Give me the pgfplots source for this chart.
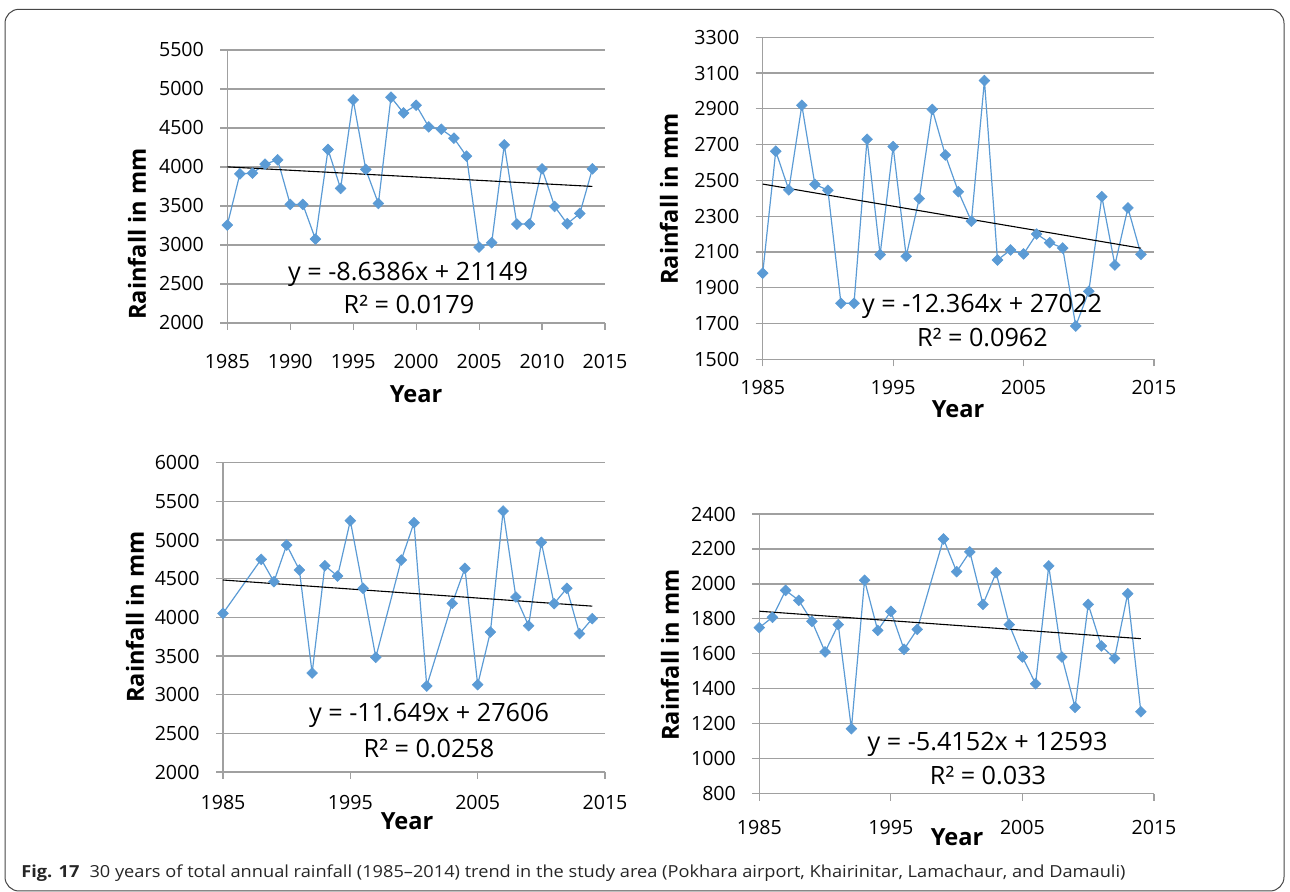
\documentclass[border=0pt]{standalone}
\usepackage{pgfplots}
\pgfplotsset{compat=1.18}
\usepackage{fontspec}
\setmainfont{Open Sans}
\usepackage{graphicx}
\definecolor{sblue}{RGB}{91,155,213}
\definecolor{ggray}{RGB}{160,160,160}
\definecolor{framec}{RGB}{70,70,70}
\makeatletter
\tikzdeclarecoordinatesystem{px}{\px@parse#1\@nil}
\def\px@parse#1,#2\@nil{\pgfmathsetmacro\pxx{(#1)*0.5}\pgfmathsetmacro\pxy{(892-(#2))*0.5}\pgfpoint{\pxx pt}{\pxy pt}}
\makeatother
\pgfplotsset{
  rain/.style={
    scale only axis, anchor=south west,
    axis x line=bottom, axis y line=left,
    axis line style={ggray, line width=0.6pt, -},
    x axis line style={-}, y axis line style={-},
    ymajorgrids, grid style={ggray, line width=0.6pt},
    tick align=outside, major tick length=3.5pt,
    tick style={ggray, line width=0.6pt},
    minor tick num=0,
    xmin=1985, xmax=2015,
    scaled ticks=false,
    /pgf/number format/1000 sep={},
    /pgf/number format/assume math mode=true,
    tick label style={font=\fontsize{9.8}{11}\selectfont, text=black, inner sep=0pt},
    yticklabel style={anchor=east, xshift=-8pt},
    clip=false,
  },
  series/.style={sblue, line width=0.6pt, mark=square*, mark size=1.9pt,
    mark options={rotate=45, solid, fill=sblue, draw=sblue, line width=0.3pt}},
  trend/.style={black, line width=0.55pt, no marks},
}
\newcommand\eqfont{\fontsize{12.6}{15}\selectfont}
\newcommand\labfont{\fontsize{11.8}{14}\selectfont\bfseries}
\begin{document}
\begin{tikzpicture}
\useasboundingbox (0,0) rectangle (645pt,446pt);
\draw[framec, line width=0.5pt, rounded corners=7pt] (px cs:5,891) rectangle (px cs:1284,9.3);

% Panel 1
\begin{axis}[rain, at={(px cs:227.3,323)}, width=188.85pt, height=136.5pt,
  ymin=2000, ymax=5500, ytick={2000,2500,...,5500}, xtick={1985,1990,...,2015},
  xticklabel style={anchor=north, yshift=-12pt}]
\addplot[series] coordinates {(1985,3255)(1986,3912)(1987,3921)(1988,4036)(1989,4092)(1990,3520)(1991,3520)(1992,3076)(1993,4224)(1994,3725)(1995,4860)(1996,3968)(1997,3532)(1998,4894)(1999,4693)(2000,4792)(2001,4514)(2002,4484)(2003,4369)(2004,4139)(2005,2973)(2006,3029)(2007,4284)(2008,3268)(2009,3268)(2010,3976)(2011,3494)(2012,3272)(2013,3404)(2014,3976)};
\addplot[trend] coordinates {(1985,4001.4)(2014,3750.9)};
\end{axis}
\node[anchor=base, inner sep=0pt] at (px cs:408,280.7) {\eqfont y = -8.6386x + 21149};
\node[anchor=base, inner sep=0pt] at (px cs:409,313.3) {\eqfont R² = 0.0179};
\node[rotate=90, inner sep=0pt] at (px cs:137,234) {\labfont Rainfall in mm};
\node[anchor=base, inner sep=0pt] at (px cs:416,402.7) {\labfont Year};

% Panel 2
\begin{axis}[rain, at={(px cs:762.7,359.3)}, width=195.65pt, height=161pt,
  ymin=1500, ymax=3300, ytick={1500,1700,...,3300}, xtick={1985,1995,2005,2015},
  xticklabel style={anchor=north, yshift=-7pt}]
\addplot[series] coordinates {(1985,1981)(1986,2663)(1987,2447)(1988,2920)(1989,2478)(1990,2445)(1991,1813)(1992,1813)(1993,2730)(1994,2085)(1995,2689)(1996,2076)(1997,2398)(1998,2897)(1999,2642)(2000,2437)(2001,2272)(2002,3058)(2003,2055)(2004,2111)(2005,2089)(2006,2200)(2007,2152)(2008,2122)(2009,1686)(2010,1880)(2011,2409)(2012,2027)(2013,2346)(2014,2087)};
\addplot[trend] coordinates {(1985,2479.5)(2014,2120.9)};
\end{axis}
\node[anchor=base, inner sep=0pt] at (px cs:982,312.7) {\eqfont y = -12.364x + 27022};
\node[anchor=base, inner sep=0pt] at (px cs:982.5,346.7) {\eqfont R² = 0.0962};
\node[rotate=90, inner sep=0pt] at (px cs:669,199) {\labfont Rainfall in mm};
\node[anchor=base, inner sep=0pt] at (px cs:958,418) {\labfont Year};

% Panel 3
\begin{axis}[rain, at={(px cs:223,772)}, width=191pt, height=154.65pt,
  ymin=2000, ymax=6000, ytick={2000,2500,...,6000}, xtick={1985,1995,2005,2015},
  xticklabel style={anchor=north, yshift=-8pt}]
\addplot[series] coordinates {(1985,4052)(1988,4750)(1989,4461)(1990,4935)(1991,4612)(1992,3280)(1993,4668)(1994,4534)(1995,5250)(1996,4375)(1997,3483)(1999,4741)(2000,5224)(2001,3112)(2003,4181)(2004,4634)(2005,3129)(2006,3810)(2007,5375)(2008,4263)(2009,3892)(2010,4970)(2011,4177)(2012,4375)(2013,3789)(2014,3983)};
\addplot[trend] coordinates {(1985,4482.7)(2014,4144.9)};
\end{axis}
\node[anchor=base, inner sep=0pt] at (px cs:429,721.7) {\eqfont y = -11.649x + 27606};
\node[anchor=base, inner sep=0pt] at (px cs:429,757.3) {\eqfont R² = 0.0258};
\node[rotate=90, inner sep=0pt] at (px cs:135,617) {\labfont Rainfall in mm};
\node[anchor=base, inner sep=0pt] at (px cs:407,830) {\labfont Year};

% Panel 4
\begin{axis}[rain, at={(px cs:759.3,793.7)}, width=197.35pt, height=139.85pt,
  ymin=800, ymax=2400, ytick={800,1000,...,2400}, xtick={1985,1995,2005,2015},
  xticklabel style={anchor=north, yshift=-9.5pt}]
\addplot[series] coordinates {(1985,1750)(1986,1809)(1987,1963)(1988,1906)(1989,1786)(1990,1611)(1991,1767)(1992,1172)(1993,2021)(1994,1734)(1995,1843)(1996,1626)(1997,1740)(1999,2257)(2000,2070)(2001,2183)(2002,1883)(2003,2064)(2004,1767)(2005,1582)(2006,1429)(2007,2103)(2008,1582)(2009,1294)(2010,1883)(2011,1645)(2012,1574)(2013,1944)(2014,1269)};
\addplot[trend] coordinates {(1985,1843.8)(2014,1686.8)};
\end{axis}
\node[anchor=base, inner sep=0pt] at (px cs:987.5,750.7) {\eqfont y = -5.4152x + 12593};
\node[anchor=base, inner sep=0pt] at (px cs:988,785) {\eqfont R² = 0.033};
\node[rotate=90, inner sep=0pt] at (px cs:670,655) {\labfont Rainfall in mm};
\node[anchor=base, inner sep=0pt] at (px cs:957,846) {\labfont Year};

% Caption
\node[anchor=base west, inner sep=0pt, text=black!85] at (px cs:21,877.7)
  {\resizebox{552pt}{\height}{\fontsize{8.3}{10}\selectfont\textbf{Fig. 17}\hspace{0.55em}30 years of total annual rainfall (1985–2014) trend in the study area (Pokhara airport, Khairinitar, Lamachaur, and Damauli)}};
\end{tikzpicture}
\end{document}
